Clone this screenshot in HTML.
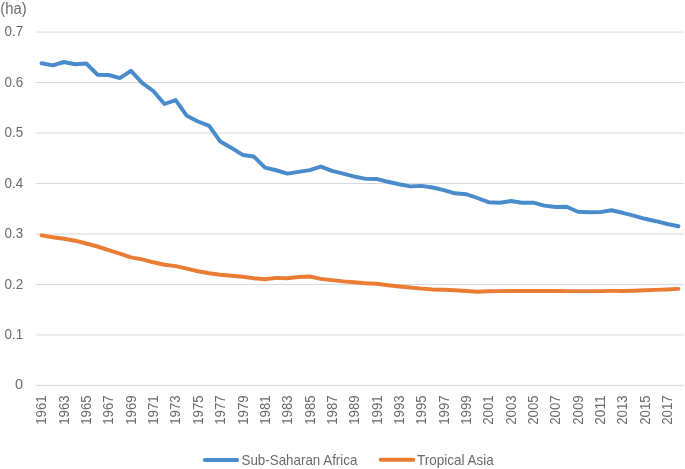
<!DOCTYPE html><html><head><meta charset="utf-8"><style>html,body{margin:0;padding:0;background:#fff;}svg{display:block;}text{font-family:"Liberation Sans",sans-serif;fill:#6b6b6b;}svg{will-change:transform;}</style></head><body>
<svg width="685" height="469" viewBox="0 0 685 469">
<rect width="685" height="469" fill="#fff"/>
<line x1="36.0" y1="385.40" x2="684.0" y2="385.40" stroke="#d9d9d9" stroke-width="1"/>
<line x1="36.0" y1="334.93" x2="684.0" y2="334.93" stroke="#d9d9d9" stroke-width="1"/>
<line x1="36.0" y1="284.46" x2="684.0" y2="284.46" stroke="#d9d9d9" stroke-width="1"/>
<line x1="36.0" y1="233.99" x2="684.0" y2="233.99" stroke="#d9d9d9" stroke-width="1"/>
<line x1="36.0" y1="183.51" x2="684.0" y2="183.51" stroke="#d9d9d9" stroke-width="1"/>
<line x1="36.0" y1="133.04" x2="684.0" y2="133.04" stroke="#d9d9d9" stroke-width="1"/>
<line x1="36.0" y1="82.57" x2="684.0" y2="82.57" stroke="#d9d9d9" stroke-width="1"/>
<line x1="36.0" y1="32.10" x2="684.0" y2="32.10" stroke="#d9d9d9" stroke-width="1"/>
<text x="23.1" y="389.45" font-size="14.4" text-anchor="end">0</text>
<text x="23.1" y="338.98" font-size="14.4" text-anchor="end" textLength="18.6" lengthAdjust="spacingAndGlyphs">0.1</text>
<text x="23.1" y="288.51" font-size="14.4" text-anchor="end" textLength="18.6" lengthAdjust="spacingAndGlyphs">0.2</text>
<text x="23.1" y="238.04" font-size="14.4" text-anchor="end" textLength="18.6" lengthAdjust="spacingAndGlyphs">0.3</text>
<text x="23.1" y="187.56" font-size="14.4" text-anchor="end" textLength="18.6" lengthAdjust="spacingAndGlyphs">0.4</text>
<text x="23.1" y="137.09" font-size="14.4" text-anchor="end" textLength="18.6" lengthAdjust="spacingAndGlyphs">0.5</text>
<text x="23.1" y="86.62" font-size="14.4" text-anchor="end" textLength="18.6" lengthAdjust="spacingAndGlyphs">0.6</text>
<text x="23.1" y="36.15" font-size="14.4" text-anchor="end" textLength="18.6" lengthAdjust="spacingAndGlyphs">0.7</text>
<text x="0.3" y="13.5" font-size="15.6" textLength="26.3" lengthAdjust="spacingAndGlyphs">(ha)</text>
<text transform="translate(41.59,395.4) rotate(-90)" x="0" y="0" dy="4.8" font-size="14.4" text-anchor="end" textLength="29.4" lengthAdjust="spacingAndGlyphs">1961</text>
<text transform="translate(63.93,395.4) rotate(-90)" x="0" y="0" dy="4.8" font-size="14.4" text-anchor="end" textLength="29.4" lengthAdjust="spacingAndGlyphs">1963</text>
<text transform="translate(86.28,395.4) rotate(-90)" x="0" y="0" dy="4.8" font-size="14.4" text-anchor="end" textLength="29.4" lengthAdjust="spacingAndGlyphs">1965</text>
<text transform="translate(108.62,395.4) rotate(-90)" x="0" y="0" dy="4.8" font-size="14.4" text-anchor="end" textLength="29.4" lengthAdjust="spacingAndGlyphs">1967</text>
<text transform="translate(130.97,395.4) rotate(-90)" x="0" y="0" dy="4.8" font-size="14.4" text-anchor="end" textLength="29.4" lengthAdjust="spacingAndGlyphs">1969</text>
<text transform="translate(153.31,395.4) rotate(-90)" x="0" y="0" dy="4.8" font-size="14.4" text-anchor="end" textLength="29.4" lengthAdjust="spacingAndGlyphs">1971</text>
<text transform="translate(175.66,395.4) rotate(-90)" x="0" y="0" dy="4.8" font-size="14.4" text-anchor="end" textLength="29.4" lengthAdjust="spacingAndGlyphs">1973</text>
<text transform="translate(198.00,395.4) rotate(-90)" x="0" y="0" dy="4.8" font-size="14.4" text-anchor="end" textLength="29.4" lengthAdjust="spacingAndGlyphs">1975</text>
<text transform="translate(220.34,395.4) rotate(-90)" x="0" y="0" dy="4.8" font-size="14.4" text-anchor="end" textLength="29.4" lengthAdjust="spacingAndGlyphs">1977</text>
<text transform="translate(242.69,395.4) rotate(-90)" x="0" y="0" dy="4.8" font-size="14.4" text-anchor="end" textLength="29.4" lengthAdjust="spacingAndGlyphs">1979</text>
<text transform="translate(265.03,395.4) rotate(-90)" x="0" y="0" dy="4.8" font-size="14.4" text-anchor="end" textLength="29.4" lengthAdjust="spacingAndGlyphs">1981</text>
<text transform="translate(287.38,395.4) rotate(-90)" x="0" y="0" dy="4.8" font-size="14.4" text-anchor="end" textLength="29.4" lengthAdjust="spacingAndGlyphs">1983</text>
<text transform="translate(309.72,395.4) rotate(-90)" x="0" y="0" dy="4.8" font-size="14.4" text-anchor="end" textLength="29.4" lengthAdjust="spacingAndGlyphs">1985</text>
<text transform="translate(332.07,395.4) rotate(-90)" x="0" y="0" dy="4.8" font-size="14.4" text-anchor="end" textLength="29.4" lengthAdjust="spacingAndGlyphs">1987</text>
<text transform="translate(354.41,395.4) rotate(-90)" x="0" y="0" dy="4.8" font-size="14.4" text-anchor="end" textLength="29.4" lengthAdjust="spacingAndGlyphs">1989</text>
<text transform="translate(376.76,395.4) rotate(-90)" x="0" y="0" dy="4.8" font-size="14.4" text-anchor="end" textLength="29.4" lengthAdjust="spacingAndGlyphs">1991</text>
<text transform="translate(399.10,395.4) rotate(-90)" x="0" y="0" dy="4.8" font-size="14.4" text-anchor="end" textLength="29.4" lengthAdjust="spacingAndGlyphs">1993</text>
<text transform="translate(421.45,395.4) rotate(-90)" x="0" y="0" dy="4.8" font-size="14.4" text-anchor="end" textLength="29.4" lengthAdjust="spacingAndGlyphs">1995</text>
<text transform="translate(443.79,395.4) rotate(-90)" x="0" y="0" dy="4.8" font-size="14.4" text-anchor="end" textLength="29.4" lengthAdjust="spacingAndGlyphs">1997</text>
<text transform="translate(466.14,395.4) rotate(-90)" x="0" y="0" dy="4.8" font-size="14.4" text-anchor="end" textLength="29.4" lengthAdjust="spacingAndGlyphs">1999</text>
<text transform="translate(488.48,395.4) rotate(-90)" x="0" y="0" dy="4.8" font-size="14.4" text-anchor="end" textLength="29.4" lengthAdjust="spacingAndGlyphs">2001</text>
<text transform="translate(510.83,395.4) rotate(-90)" x="0" y="0" dy="4.8" font-size="14.4" text-anchor="end" textLength="29.4" lengthAdjust="spacingAndGlyphs">2003</text>
<text transform="translate(533.17,395.4) rotate(-90)" x="0" y="0" dy="4.8" font-size="14.4" text-anchor="end" textLength="29.4" lengthAdjust="spacingAndGlyphs">2005</text>
<text transform="translate(555.52,395.4) rotate(-90)" x="0" y="0" dy="4.8" font-size="14.4" text-anchor="end" textLength="29.4" lengthAdjust="spacingAndGlyphs">2007</text>
<text transform="translate(577.86,395.4) rotate(-90)" x="0" y="0" dy="4.8" font-size="14.4" text-anchor="end" textLength="29.4" lengthAdjust="spacingAndGlyphs">2009</text>
<text transform="translate(600.21,395.4) rotate(-90)" x="0" y="0" dy="4.8" font-size="14.4" text-anchor="end" textLength="29.4" lengthAdjust="spacingAndGlyphs">2011</text>
<text transform="translate(622.55,395.4) rotate(-90)" x="0" y="0" dy="4.8" font-size="14.4" text-anchor="end" textLength="29.4" lengthAdjust="spacingAndGlyphs">2013</text>
<text transform="translate(644.90,395.4) rotate(-90)" x="0" y="0" dy="4.8" font-size="14.4" text-anchor="end" textLength="29.4" lengthAdjust="spacingAndGlyphs">2015</text>
<text transform="translate(667.24,395.4) rotate(-90)" x="0" y="0" dy="4.8" font-size="14.4" text-anchor="end" textLength="29.4" lengthAdjust="spacingAndGlyphs">2017</text>
<polyline points="41.59,63.20 52.76,65.40 63.93,62.00 75.10,64.30 86.28,63.50 97.45,74.70 108.62,75.00 119.79,78.10 130.97,70.80 142.14,82.80 153.31,91.00 164.48,104.00 175.66,100.10 186.83,115.80 198.00,121.50 209.17,125.80 220.34,141.55 231.52,147.95 242.69,154.95 253.86,156.55 265.03,167.65 276.21,170.25 287.38,173.65 298.55,171.85 309.72,170.15 320.90,166.55 332.07,170.95 343.24,173.55 354.41,176.55 365.59,178.90 376.76,179.00 387.93,181.80 399.10,184.30 410.28,186.40 421.45,185.90 432.62,187.50 443.79,190.10 454.97,193.30 466.14,194.20 477.31,198.00 488.48,202.20 499.66,202.80 510.83,201.00 522.00,202.70 533.17,202.70 544.34,205.60 555.52,207.00 566.69,206.70 577.86,211.70 589.03,212.30 600.21,212.10 611.38,210.30 622.55,212.80 633.72,215.60 644.90,218.80 656.07,221.20 667.24,224.00 678.41,226.30" fill="none" stroke="#4a8ccb" stroke-width="3.95" stroke-linejoin="round" stroke-linecap="round"/>
<polyline points="41.59,235.40 52.76,237.20 63.93,238.80 75.10,240.70 86.28,243.50 97.45,246.50 108.62,250.10 119.79,253.60 130.97,257.40 142.14,259.40 153.31,262.30 164.48,264.70 175.66,266.10 186.83,268.70 198.00,271.20 209.17,273.30 220.34,274.80 231.52,275.80 242.69,276.70 253.86,278.30 265.03,279.30 276.21,277.90 287.38,278.30 298.55,277.00 309.72,276.50 320.90,278.90 332.07,280.10 343.24,281.40 354.41,282.20 365.59,283.30 376.76,283.70 387.93,285.30 399.10,286.50 410.28,287.50 421.45,288.60 432.62,289.50 443.79,289.70 454.97,290.30 466.14,291.00 477.31,291.70 488.48,291.30 499.66,291.10 510.83,291.00 522.00,291.00 533.17,291.00 544.34,291.00 555.52,290.90 566.69,291.10 577.86,291.10 589.03,291.10 600.21,291.10 611.38,290.90 622.55,290.90 633.72,290.70 644.90,290.30 656.07,289.90 667.24,289.50 678.41,288.90" fill="none" stroke="#eb7c34" stroke-width="3.95" stroke-linejoin="round" stroke-linecap="round"/>
<line x1="204.8" y1="459.9" x2="237.1" y2="459.9" stroke="#4a8ccb" stroke-width="3.95" stroke-linecap="round"/>
<text x="241.5" y="464.7" font-size="14.4" textLength="115.9" lengthAdjust="spacingAndGlyphs">Sub-Saharan Africa</text>
<line x1="380.6" y1="459.8" x2="413.3" y2="459.8" stroke="#eb7c34" stroke-width="3.95" stroke-linecap="round"/>
<text x="416.9" y="464.7" font-size="14.4" textLength="76.9" lengthAdjust="spacingAndGlyphs">Tropical Asia</text>
</svg></body></html>
